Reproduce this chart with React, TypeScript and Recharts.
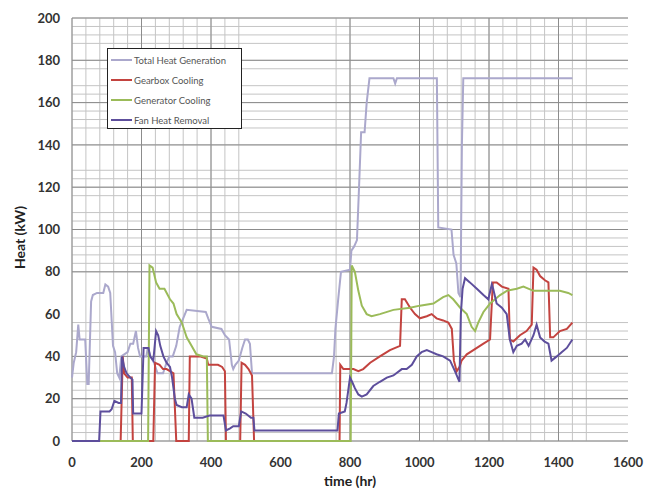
import React from 'react';
import { LineChart, Line, XAxis, YAxis, CartesianGrid, Legend, Label } from 'recharts';

// ---- Data (time in hr, heat in kW) ----
const totalTime = [0, 5, 12, 18, 22, 38, 44, 48, 55, 60, 72, 90, 96, 104, 110, 118, 124, 130, 136, 142, 160, 168, 176, 184, 190, 196, 214, 218, 226, 236, 246, 262, 270, 280, 290, 300, 310, 320, 330, 385, 392, 402, 430, 440, 452, 460, 464, 470, 480, 490, 498, 506, 512, 518, 748, 754, 758, 766, 774, 800, 804, 812, 820, 826, 832, 842, 848, 856, 925, 930, 935, 1050, 1054, 1092, 1098, 1106, 1112, 1118, 1122, 1126, 1440];
const totalHeat = [30, 37, 42, 55, 48, 48, 27, 27, 66, 69, 70, 70, 74, 73, 70, 45, 42, 32, 30, 40, 42, 46, 46, 52, 44, 40, 40, 44, 40, 37, 32, 32, 36, 40, 40, 45, 54, 58, 62, 61, 58, 54, 53, 50, 48, 36, 34, 36, 38, 44, 48, 48, 46, 32, 32, 40, 53, 67, 80, 81, 90, 92, 95, 120, 146, 146, 160, 171.5, 171.5, 169, 171.5, 171.5, 101, 100, 88, 84, 70, 68, 140, 171.5, 171.5];

const gearTime = [0, 140, 146, 150, 160, 172, 175, 234, 239, 252, 262, 272, 282, 292, 300, 336, 339, 368, 388, 392, 420, 432, 440, 443, 484, 488, 498, 508, 518, 524, 770, 772, 781, 810, 824, 838, 858, 886, 915, 944, 949, 958, 973, 987, 1001, 1021, 1035, 1049, 1068, 1083, 1093, 1099, 1107, 1115, 1121, 1136, 1155, 1184, 1203, 1211, 1222, 1237, 1256, 1260, 1270, 1289, 1308, 1323, 1328, 1337, 1347, 1361, 1371, 1376, 1385, 1404, 1424, 1440];
const gearHeat = [0, 0, 40, 32, 30, 30, 0, 0, 37, 36, 34, 34, 33, 32, 0, 0, 40, 40, 39, 36, 36, 35, 33, 0, 0, 37, 36, 34, 31, 0, 0, 36, 34, 34, 33, 34, 37, 40, 43, 45, 67, 67, 63, 60, 58, 59, 60, 58, 57, 56, 53, 38, 33, 35, 38, 41, 43, 46, 48, 75, 75, 73, 72, 48, 47, 50, 52, 55, 82, 81, 78, 76, 75, 49, 49, 52, 53, 56];

const genTime = [0, 219, 223, 232, 242, 252, 266, 282, 292, 301, 316, 330, 344, 358, 378, 388, 391, 802, 805, 814, 824, 834, 848, 862, 886, 925, 973, 1001, 1040, 1068, 1083, 1097, 1117, 1136, 1150, 1160, 1169, 1184, 1203, 1232, 1251, 1280, 1299, 1328, 1366, 1404, 1428, 1440];
const genHeat = [0, 0, 83, 82, 75, 72, 72, 67, 65, 60, 56, 49, 45, 41, 40, 40, 0, 0, 83, 80, 71, 64, 60, 59, 60, 62, 63, 64, 65, 68, 69, 67, 63, 60, 54, 52, 56, 61, 65, 69, 71, 72, 73, 71, 71, 71, 70, 69];

const fanTime = [0, 78, 82, 108, 114, 122, 134, 141, 144, 150, 157, 168, 174, 176, 200, 206, 220, 225, 234, 242, 248, 254, 263, 272, 282, 288, 292, 296, 301, 316, 330, 336, 344, 352, 376, 396, 436, 443, 455, 464, 480, 487, 500, 515, 522, 525, 764, 768, 785, 790, 800, 806, 814, 824, 834, 848, 867, 886, 906, 925, 949, 963, 978, 992, 1006, 1021, 1035, 1049, 1068, 1088, 1102, 1115, 1119, 1124, 1131, 1145, 1165, 1184, 1198, 1208, 1212, 1222, 1237, 1251, 1260, 1270, 1280, 1294, 1304, 1314, 1328, 1337, 1347, 1360, 1371, 1380, 1395, 1409, 1424, 1440];
const fanHeat = [0, 0, 14, 14, 15, 19, 18, 18, 40, 35, 32, 30, 29, 13, 13, 44, 44, 40, 38, 52, 50, 45, 40, 37, 35, 30, 25, 20, 17, 16, 16, 22, 20, 11, 11, 12, 12, 5, 6, 7, 7, 14, 13, 11, 11, 5, 5, 13, 14, 18, 30, 28, 25, 22, 21, 22, 26, 28, 30, 31, 34, 34, 36, 40, 42, 43, 42, 41, 40, 38, 33, 28, 60, 72, 77, 75, 72, 69, 67, 74, 72, 65, 63, 60, 48, 42, 45, 46, 48, 45, 50, 55, 49, 47, 46, 38, 40, 42, 44, 48];

const xTicks = [0, 200, 400, 600, 800, 1000, 1200, 1400, 1600];
const yTicks = [0, 20, 40, 60, 80, 100, 120, 140, 160, 180, 200];

const hMinor = [0, 4, 8, 12, 16, 20, 24, 28, 32, 40, 48, 52, 56, 80, 84, 88, 92, 96, 100, 104, 108, 116, 120, 124, 128, 140, 148, 152, 156, 160, 164, 168, 176, 180, 188, 192, 196, 200];
const hMajor = [0, 20, 40, 80, 100, 120, 140, 160, 180, 200];
const vMinor = [0, 40, 80, 120, 160, 200, 240, 280, 320, 360, 400, 440, 480, 760, 800, 1000, 1040, 1080, 1120, 1160, 1200, 1240, 1280, 1320, 1360, 1400, 1440, 1480];
const vMajor = [0, 200, 400, 800, 1000, 1200, 1400];

const seriesNames = ['Total Heat Generation', 'Gearbox Cooling', 'Generator Cooling', 'Fan Heat Removal'];

const toRows = (ts: number[], vs: number[]) => ts.map((t, i) => ({ t, v: vs[i] }));
const totalData = toRows(totalTime, totalHeat);
const gearData = toRows(gearTime, gearHeat);
const genData = toRows(genTime, genHeat);
const fanData = toRows(fanTime, fanHeat);

const COLORS = ['#aba8cc', '#c3433f', '#9bbb59', '#5d4e9c'];
const LEG_W = [1.2, 2.5, 2.5, 2.5];
const FONT = "Lato, 'Open Sans', 'DejaVu Sans', sans-serif";

const LegendBox = () => (
  <div
    style={{
      border: '1px solid #222',
      background: '#fff',
      width: 135,
      height: 81,
      boxSizing: 'border-box',
      paddingTop: 1,
      paddingLeft: 3,
      fontFamily: FONT,
      fontSize: 9.5,
      color: '#555',
    }}
  >
    {seriesNames.map((n, i) => (
      <div key={n} style={{ display: 'flex', alignItems: 'center', height: 20, whiteSpace: 'nowrap' }}>
        <span style={{ display: 'inline-block', width: 21, height: LEG_W[i], background: COLORS[i], marginRight: 2 }} />
        {n}
      </div>
    ))}
  </div>
);

const YLabel = (props: any) => {
  const vb = props.viewBox || { x: 0, y: 10, width: 64, height: 423 };
  const cx = 11;
  const cy = vb.y + vb.height / 2 + 8;
  return (
    <text
      x={cx}
      y={cy}
      transform={`rotate(-90, ${cx}, ${cy})`}
      textAnchor="middle"
      dominantBaseline="central"
      style={{ fontFamily: FONT, fontSize: 14, fontWeight: 700, fill: '#222' }}
    >
      Heat (kW)
    </text>
  );
};

const tickStyle = { fontFamily: FONT, fontSize: 13, fontWeight: 700, fill: '#333' };

export default function App() {
  return (
    <div style={{ width: 646, height: 488, boxSizing: 'border-box', padding: 8, background: '#fff' }}>
      <style>{'body{margin:0}'}</style>
      <div style={{ width: 638, height: 480, position: 'relative' }}>
        <LineChart width={638} height={480} margin={{ top: 10, right: 18, left: 0, bottom: 0 }}>
          <CartesianGrid stroke="#c4c4c4" strokeWidth={1} horizontalValues={hMinor} verticalValues={vMinor} />
          <CartesianGrid stroke="#8c8c8c" strokeWidth={1} horizontalValues={hMajor} verticalValues={vMajor} />
          <XAxis
            dataKey="t"
            type="number"
            domain={[0, 1600]}
            ticks={xTicks}
            allowDuplicatedCategory={false}
            axisLine={false}
            tickLine={false}
            tickSize={0}
            tickMargin={17}
            height={47}
            tick={tickStyle}
            interval={0}
          >
            <Label
              value="time (hr)"
              position="insideBottom"
              offset={2}
              style={{ fontFamily: FONT, fontSize: 14, fontWeight: 700, fill: '#222' }}
            />
          </XAxis>
          <YAxis
            type="number"
            domain={[0, 200]}
            ticks={yTicks}
            axisLine={false}
            tickLine={false}
            tickSize={0}
            tickMargin={12}
            width={64}
            tick={tickStyle}
            interval={0}
            label={<YLabel />}
          />
          <Legend
            layout="vertical"
            align="center"
            verticalAlign="middle"
            content={<LegendBox />}
            wrapperStyle={{ top: 40, left: 99, width: 135, height: 81, bottom: 'auto', right: 'auto' }}
          />
          <Line data={totalData} dataKey="v" name={seriesNames[0]} stroke={COLORS[0]} strokeWidth={2} dot={false} isAnimationActive={false} type="linear" />
          <Line data={gearData} dataKey="v" name={seriesNames[1]} stroke={COLORS[1]} strokeWidth={2} dot={false} isAnimationActive={false} type="linear" />
          <Line data={genData} dataKey="v" name={seriesNames[2]} stroke={COLORS[2]} strokeWidth={2} dot={false} isAnimationActive={false} type="linear" />
          <Line data={fanData} dataKey="v" name={seriesNames[3]} stroke={COLORS[3]} strokeWidth={2} dot={false} isAnimationActive={false} type="linear" />
        </LineChart>
      </div>
    </div>
  );
}
